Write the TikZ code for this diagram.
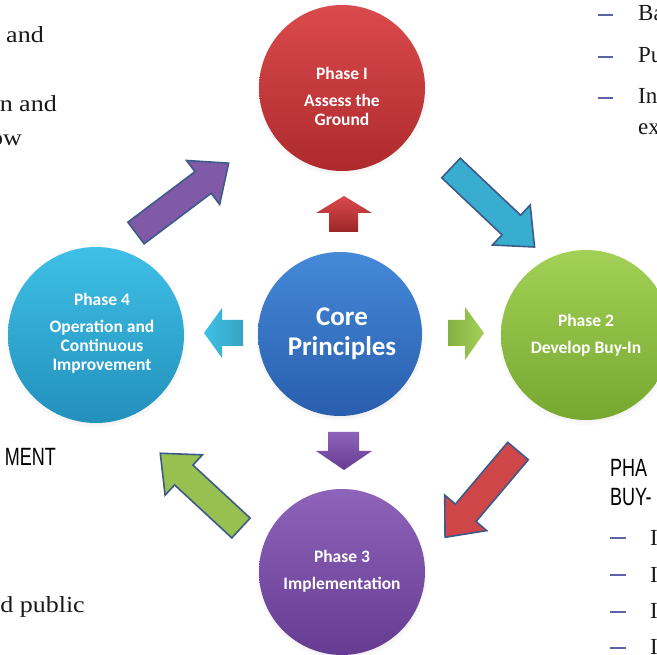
\documentclass[tikz,border=0pt]{standalone}
\usepackage{fontspec}
\setmainfont{Liberation Serif}
\newfontfamily\calfont{Carlito}
\newfontfamily\headfont{Liberation Sans}
\usetikzlibrary{shadows}
\definecolor{redT}{HTML}{DA4A4C}\definecolor{redB}{HTML}{AE2A2D}
\definecolor{bluT}{HTML}{4489D8}\definecolor{bluB}{HTML}{295EAD}
\definecolor{cyaT}{HTML}{3FC0E6}\definecolor{cyaB}{HTML}{2290BC}
\definecolor{grnT}{HTML}{A3D157}\definecolor{grnB}{HTML}{76A72F}
\definecolor{purT}{HTML}{8E64BA}\definecolor{purB}{HTML}{653C91}
\definecolor{outl}{HTML}{3E5A88}
\definecolor{dashc}{HTML}{5C63A8}
\newcommand\fatarrow[4]{%
  \begin{scope}[shift={#1}, rotate=#2]
    \draw[bigarrow, fill=#4] (0,13.5) -- ({#3-32},13.5) -- ({#3-32},27.5) -- (#3,0)
      -- ({#3-32},-27.5) -- ({#3-32},-13.5) -- (0,-13.5) -- cycle;
  \end{scope}}
\begin{document}
\begin{tikzpicture}[x=1pt,y=-1pt,
  phasecirc/.style={circle, draw=none, inner sep=0pt, minimum size=166pt,
    circular drop shadow={shadow xshift=0pt, shadow yshift=-2pt, opacity=0.22, shadow scale=1.04}},
  phasetext/.style={text=white, align=center, inner sep=0pt,
    font=\calfont\bfseries\fontsize{17.5}{19}\selectfont},
  coretext/.style={text=white, align=center, inner sep=0pt,
    font=\calfont\bfseries\fontsize{27}{29.5}\selectfont},
  bigarrow/.style={draw=outl, line width=1.6pt, line join=miter},
  doctext/.style={inner sep=0pt, font=\fontsize{23}{27}\selectfont, text=black!90, xscale=1.13},
  doctextr/.style={inner sep=0pt, font=\fontsize{23}{27}\selectfont, text=black!90},
  dochead/.style={inner sep=0pt, font=\headfont\fontsize{25}{29}\selectfont, text=black, xscale=0.72},
  dashmark/.style={draw=dashc, line width=1.2pt}]
\useasboundingbox (0,0) rectangle (657,655);
\clip (0,0) rectangle (657,655);
\fill[white] (0,0) rectangle (657,655);

% side document text
\node[doctext, anchor=base east] (l1) at (44,43) {n and};
\node[doctext, anchor=base east] (l2) at (57,112) {n and};
\node[doctext, anchor=base east] (l3) at (22,146) {ow};
\node[dochead, anchor=base east] (l4) at (56,465) {MENT};
\node[doctext, anchor=base east] (l5) at (85,612) {d public};

\foreach \yy in {15, 57, 98} {
  \draw[dashmark] (598,\yy) -- (613,\yy);
}
\node[doctextr, anchor=base west] (r1) at (638,21) {Ba};
\node[doctextr, anchor=base west] (r2) at (638,63) {Pu};
\node[doctextr, anchor=base west] (r3) at (638,104) {In};
\node[doctextr, anchor=base west] (r4) at (638,135) {ex};

\node[dochead, anchor=base west] (h1) at (610,477) {PHA};
\node[dochead, anchor=base west] (h2) at (610,506) {BUY-};
\foreach \yy/\bb in {538/545, 575/582, 612/618, 648/654} {
  \draw[dashmark] (610,\yy) -- (626,\yy);
  \node[doctextr, anchor=base west] at (650,\bb) {I};
}

% circles
\node[phasecirc, top color=redT, bottom color=redB] (p1) at (342,88) {};
\node[phasecirc, top color=bluT, bottom color=bluB, minimum size=164pt] (core) at (340,334) {};
\node[phasecirc, top color=cyaT, bottom color=cyaB, minimum size=176pt] (p4) at (96,335) {};
\node[phasecirc, top color=grnT, bottom color=grnB, minimum size=170pt] (p2) at (586,335) {};
\node[phasecirc, top color=purT, bottom color=purB] (p3) at (342,572) {};

\node[phasetext] (t1) at (342,96) {Phase I\\[8pt]Assess the\\Ground};
\node[coretext] (tc) at (342,334) {Core\\Principles};
\node[phasetext] (t4) at (102,333) {Phase 4\\[8pt]Operation and\\Continuous\\Improvement};
\node[phasetext] (t2) at (586,335) {Phase 2\\[8pt]Develop Buy-In};
\node[phasetext] (t3) at (342,571) {Phase 3\\[8pt]Implementation};

% small block arrows around the core
\shade[top color=redT, bottom color=redB!90!black]
  (344,196) -- (372,213) -- (358,213) -- (358,232) -- (329,232) -- (329,213) -- (316,213) -- cycle;
\shade[left color=grnB!90, right color=grnT]
  (484,333) -- (465,307) -- (465,320) -- (448,320) -- (448,346) -- (465,346) -- (465,360) -- cycle;
\shade[left color=cyaT, right color=cyaT!85!black]
  (204,333) -- (222,308) -- (222,320) -- (243,320) -- (243,346) -- (222,346) -- (222,358) -- cycle;
\shade[top color=purT, bottom color=purB]
  (344,470) -- (372,451) -- (359,451) -- (359,432) -- (328,432) -- (328,451) -- (316,451) -- cycle;

% big outlined arrows between phases
\fatarrow{(136,233)}{37}{116}{purT!90!black}
\fatarrow{(451,168)}{-43.4}{115}{cyaT!90!black}
\fatarrow{(518,451)}{229.8}{113}{redT!95!black}
\fatarrow{(241,528)}{137.2}{110}{grnT!92!black}
\end{tikzpicture}
\end{document}
